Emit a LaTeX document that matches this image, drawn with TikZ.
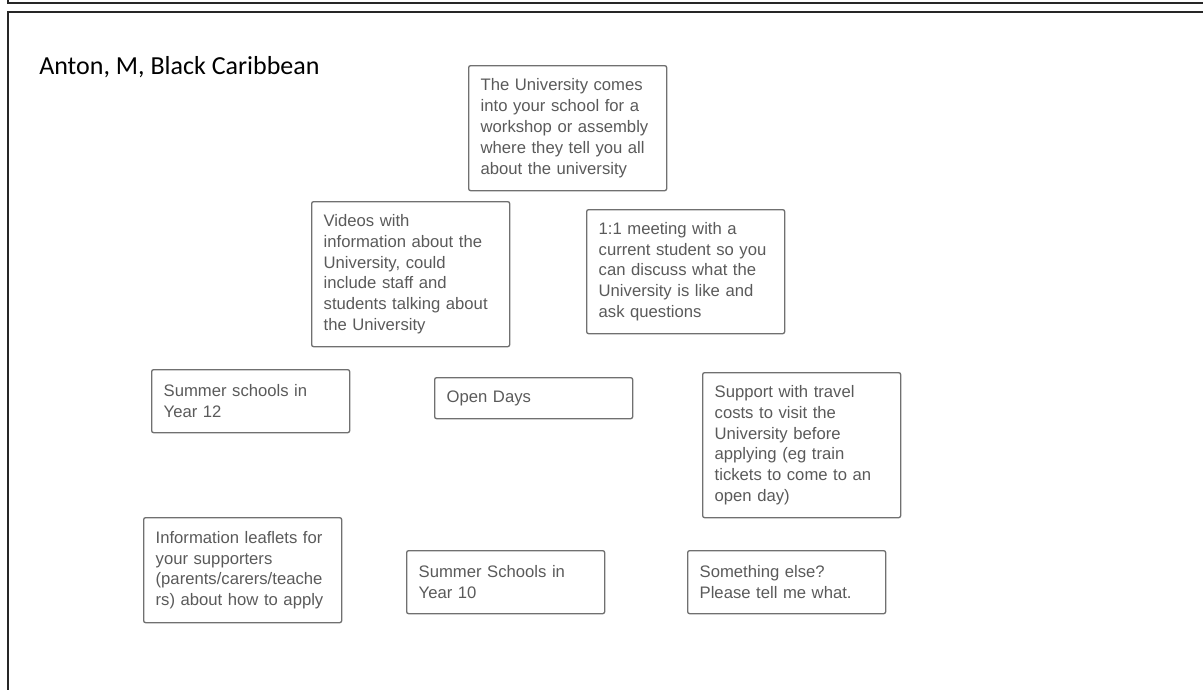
\documentclass[tikz,border=0pt]{standalone}
\usepackage{fontspec}
\setmainfont{Liberation Sans}
\newfontfamily\titlefont{Carlito}
\newfontfamily\cardfont{Liberation Sans}
\usetikzlibrary{positioning}
\definecolor{cardline}{HTML}{707070}
\definecolor{cardtext}{HTML}{5A5A5A}
\tikzset{
    card/.style={draw=cardline, line width=1pt, rounded corners=1.5pt,
        anchor=north west, minimum width=148.5pt, text width=130.5pt,
        inner xsep=9pt, inner ysep=4pt, align=left, text=cardtext,
        font=\cardfont\fontsize{12.5}{15.7}\selectfont},
    frame/.style={line width=1pt, black!85}
}

\begin{document}
\begin{tikzpicture}[x=0.75pt, y=-0.75pt]
    \useasboundingbox (0,0) rectangle (1203,689);
    \clip (0,0) rectangle (1203,689);
    % page frames
    \draw[frame] (8,-10) -- (8,3) -- (1215,3);
    \draw[frame] (1215,12) -- (8,12) -- (8,700);
    \node[anchor=base west, inner sep=0pt, font=\titlefont\fontsize{19.5}{23}\selectfont] (title) at (39,74) {Anton, M, Black Caribbean};
    % options
    \node[card, minimum height=93.75pt] (visit) at (468,65) {The University comes\\into your school for a\\workshop or assembly\\where they tell you all\\about the university};
    \node[card, minimum height=108.75pt] (videos) at (311,201) {Videos with\\information about the\\University, could\\include staff and\\students talking about\\the University};
    \node[card, minimum height=93pt] (meeting) at (586,209) {1:1 meeting with a\\current student so you\\can discuss what the\\University is like and\\ask questions};
    \node[card, minimum height=47.25pt] (summer12) at (151,369) {Summer schools in\\Year 12};
    \node[card, minimum height=30.75pt] (opendays) at (434,377) {Open Days};
    \node[card, minimum height=108.75pt] (travel) at (702,372) {Support with travel\\costs to visit the\\University before\\applying (eg train\\tickets to come to an\\open day)};
    \node[card, minimum height=78.75pt] (leaflets) at (143,517) {Information leaflets for\\your supporters\\(parents/carers/teache\\rs) about how to apply};
    \node[card, minimum height=47.25pt] (summer10) at (406,550) {Summer Schools in\\Year 10};
    \node[card, minimum height=47.25pt] (other) at (687,550) {Something else?\\Please tell me what.};
\end{tikzpicture}
\end{document}
